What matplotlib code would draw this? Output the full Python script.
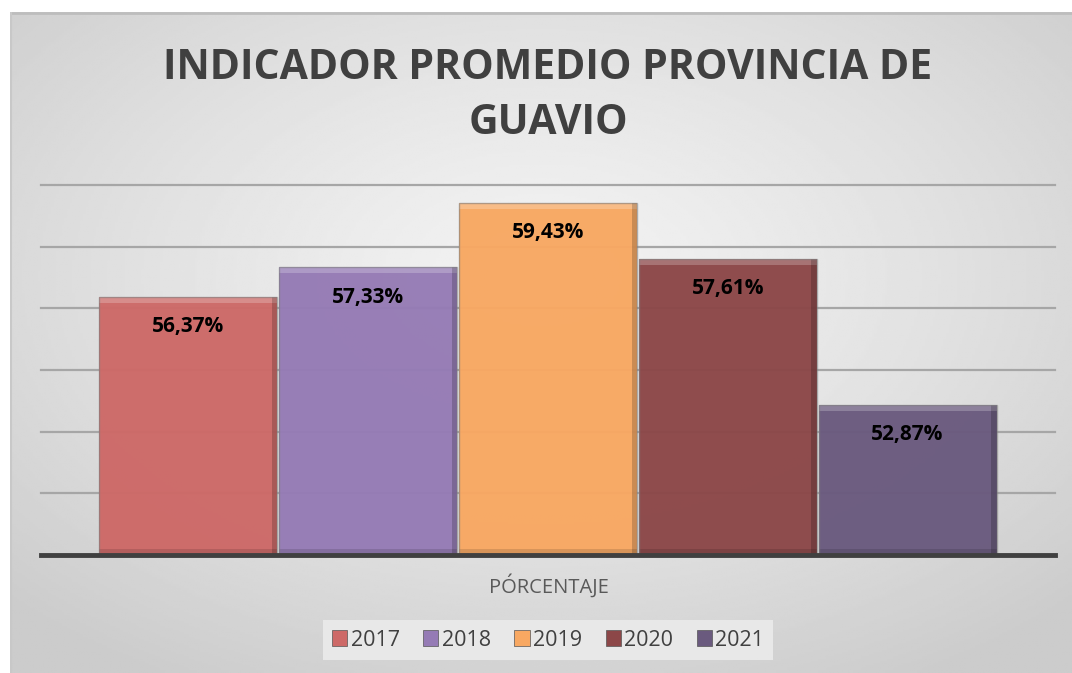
import numpy as np
import matplotlib
matplotlib.use("Agg")
import matplotlib.pyplot as plt
from matplotlib.patches import Rectangle

years = ["2017", "2018", "2019", "2020", "2021"]
values = [56.37, 57.33, 59.43, 57.61, 52.87]
labels = ["56,37%", "57,33%", "59,43%", "57,61%", "52,87%"]
colors = ["#CD6967", "#957BB5", "#F8A862", "#8C4748", "#6A5A7E"]
category = "PÓRCENTAJE"
title = "INDICADOR PROMEDIO PROVINCIA DE\nGUAVIO"

W, H = 1072, 673
fig = plt.figure(figsize=(W / 100, H / 100), dpi=100)
fig.patch.set_facecolor("white")

# background panel with radial gradient
bg = fig.add_axes([10 / W, 0, 1 - 10 / W, 1 - 12 / H])
yy, xx = np.mgrid[-1:1:300j, -1:1:400j]
r = np.sqrt((xx * 1.0) ** 2 + ((yy + 0.2) * 1.0) ** 2)
img = 0.95 - 0.15 * np.clip(r / 1.4, 0, 1) ** 1.3
bg.imshow(img, cmap="gray", vmin=0, vmax=1, aspect="auto", extent=[0, 1, 0, 1])
bg.set_xlim(0, 1); bg.set_ylim(0, 1)
bg.axis("off")
bg.plot([0, 1], [0.998, 0.998], color="#bdbdbd", lw=2)
bg.plot([0.001, 0.001], [0, 1], color="#c8c8c8", lw=1.5)

ax = fig.add_axes([41 / W, 1 - 555 / H, (1055 - 41) / W, (555 - 185) / H])
ax.patch.set_alpha(0)
x = np.arange(len(values))
ax.set_ylim(48, 60)
ax.set_xlim(-0.5 - 0.32, len(values) - 0.5 + 0.32)
for g in [50, 52, 54, 56, 58, 60]:
    ax.axhline(g, color="#a6a6a6", lw=1.6, zorder=1, clip_on=False)

bars = ax.bar(x, np.array(values) - 48, bottom=48, width=0.99, color=colors,
              edgecolor="none", zorder=2, alpha=0.97)
for xi, v, c in zip(x, values, colors):
    # bevel: light top strip, dark bottom/right strips
    ax.add_patch(Rectangle((xi - 0.495, v - 0.2), 0.99, 0.2, facecolor="white",
                           alpha=0.22, lw=0, zorder=3))
    ax.add_patch(Rectangle((xi + 0.495 - 0.03, 48), 0.03, v - 48, facecolor="black",
                           alpha=0.18, lw=0, zorder=3))
    ax.add_patch(Rectangle((xi - 0.495, 48), 0.99, 0.2, facecolor="black",
                           alpha=0.12, lw=0, zorder=3))
    ax.add_patch(Rectangle((xi - 0.495, 48), 0.99, v - 48, facecolor="none",
                           edgecolor="#7f7f7f", lw=1.0, zorder=4, alpha=0.6))
for xi, v, lab in zip(x, values, labels):
    ax.annotate(lab, (xi, v), xytext=(0, -21.5), textcoords="offset points",
                ha="center", va="center", fontsize=15, fontweight="bold",
                family="Open Sans", color="black", zorder=5)

ax.axhline(48, color="#404040", lw=3.5, zorder=6, clip_on=False)
for s in ax.spines.values():
    s.set_visible(False)
ax.set_xticks([])
ax.set_yticks([])

fig.text(549 / W, 1 - 586 / H, category, ha="center", va="center",
         fontsize=14.5, color="#595959", family="Open Sans")

fig.text(548 / W, 1 - 96 / H, title, ha="center", va="center",
         fontsize=29.5, fontweight="bold", color="#404040", family="Open Sans",
         linespacing=1.42)

handles = [Rectangle((0, 0), 1, 1, facecolor=c, edgecolor="#555555", lw=0.5) for c in colors]
leg = fig.legend(handles, years, loc="center", bbox_to_anchor=(548 / W, 1 - 640 / H),
                 ncol=5, frameon=True, handlelength=0.7, handleheight=0.7,
                 handletextpad=0.15, columnspacing=1.1, borderpad=0.45,
                 prop={"family": "Open Sans", "size": 15.5})
leg.get_frame().set_facecolor("#ececec")
leg.get_frame().set_edgecolor("none")
leg.get_frame().set_alpha(0.85)
leg.get_frame().set_boxstyle("square", pad=0)
for t in leg.get_texts():
    t.set_color("#404040")

fig.savefig("out.png", dpi=100)
